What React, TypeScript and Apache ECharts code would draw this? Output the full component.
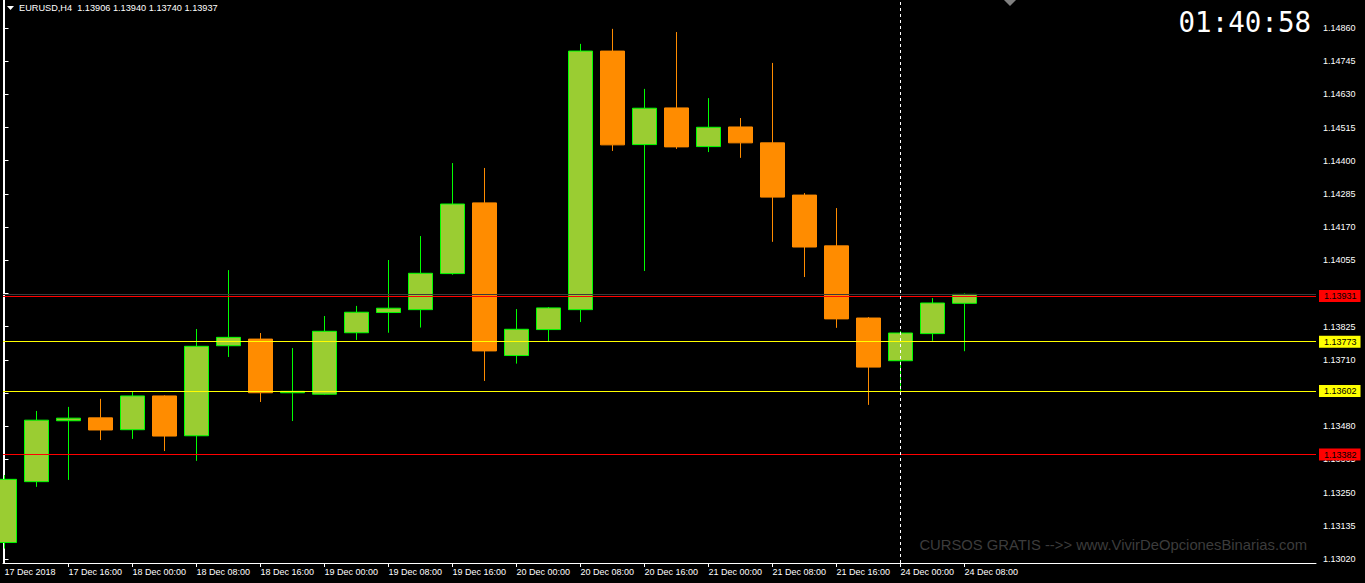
import React, { useEffect, useRef } from 'react';
import * as echarts from 'echarts';

// ---- Data (EURUSD H4) ----
const CANDLE_TIMES = [
  '17 Dec 08:00', '17 Dec 12:00', '17 Dec 16:00', '17 Dec 20:00',
  '18 Dec 00:00', '18 Dec 04:00', '18 Dec 08:00', '18 Dec 12:00', '18 Dec 16:00', '18 Dec 20:00',
  '19 Dec 00:00', '19 Dec 04:00', '19 Dec 08:00', '19 Dec 12:00', '19 Dec 16:00', '19 Dec 20:00',
  '20 Dec 00:00', '20 Dec 04:00', '20 Dec 08:00', '20 Dec 12:00', '20 Dec 16:00', '20 Dec 20:00',
  '21 Dec 00:00', '21 Dec 04:00', '21 Dec 08:00', '21 Dec 12:00', '21 Dec 16:00', '21 Dec 20:00',
  '24 Dec 00:00', '24 Dec 04:00', '24 Dec 08:00',
];
const OPEN = [
  1.13077, 1.13288, 1.13499, 1.13509, 1.13468, 1.13585, 1.13447, 1.13759, 1.13782, 1.13596,
  1.13591, 1.13804, 1.13874, 1.13884, 1.14009, 1.14254, 1.13725, 1.13815, 1.13884, 1.14780,
  1.14456, 1.14583, 1.14449, 1.14517, 1.14462, 1.14281, 1.14105, 1.13855, 1.13707, 1.13801, 1.13906,
];
const CLOSE = [
  1.13296, 1.13501, 1.13508, 1.13467, 1.13585, 1.13446, 1.13757, 1.13788, 1.13596, 1.13601,
  1.13809, 1.13875, 1.13889, 1.14010, 1.14250, 1.13741, 1.13816, 1.13890, 1.14780, 1.14455,
  1.14582, 1.14448, 1.14516, 1.14462, 1.14274, 1.14101, 1.13852, 1.13685, 1.13803, 1.13907, 1.13937,
];
const HIGH = [
  1.13311, 1.13533, 1.13547, 1.13575, 1.13600, 1.13587, 1.13817, 1.14021, 1.13803, 1.13751,
  1.13862, 1.13897, 1.14056, 1.14139, 1.14392, 1.14375, 1.13886, 1.13893, 1.14805, 1.14857,
  1.14649, 1.14846, 1.14617, 1.14548, 1.14739, 1.14288, 1.14236, 1.13858, 1.13810, 1.13924, 1.13940,
];
const LOW = [
  1.13056, 1.13270, 1.13294, 1.13432, 1.13436, 1.13394, 1.13360, 1.13720, 1.13564, 1.13498,
  1.13589, 1.13779, 1.13804, 1.13822, 1.14005, 1.13637, 1.13697, 1.13774, 1.13841, 1.14434,
  1.14018, 1.14441, 1.14430, 1.14410, 1.14119, 1.13997, 1.13821, 1.13554, 1.13595, 1.13776, 1.13740,
];

const X_TICK_INDEX = [0, 2, 4, 6, 8, 10, 12, 14, 16, 18, 20, 22, 24, 26, 28, 30];
const X_TICK_LABELS = [
  '17 Dec 2018', '17 Dec 16:00', '18 Dec 00:00', '18 Dec 08:00', '18 Dec 16:00', '19 Dec 00:00',
  '19 Dec 08:00', '19 Dec 16:00', '20 Dec 00:00', '20 Dec 08:00', '20 Dec 16:00', '21 Dec 00:00',
  '21 Dec 08:00', '21 Dec 16:00', '24 Dec 00:00', '24 Dec 08:00',
];
const Y_TICKS = [
  1.13020, 1.13135, 1.13250, 1.13365, 1.13480, 1.13595, 1.13710, 1.13825, 1.13940,
  1.14055, 1.14170, 1.14285, 1.14400, 1.14515, 1.14630, 1.14745, 1.14860,
];
const RED_LEVELS = [1.13931, 1.13382];
const YELLOW_LEVELS = [1.13773, 1.13602];
const BID = 1.13937;
const VLINE_INDEX = 28;

const HEADER = 'EURUSD,H4  1.13906 1.13940 1.13740 1.13937';
const CLOCK = '01:40:58';
const WATERMARK = 'CURSOS GRATIS -->> www.VivirDeOpcionesBinarias.com';

const FONT = '"Liberation Sans", Arial, sans-serif';

export default function App() {
  const ref = useRef<HTMLDivElement>(null);

  useEffect(() => {
    if (!ref.current) return;
    const chart = echarts.init(ref.current, null, { renderer: 'svg' });

    const candles = OPEN.map((o, i) => [i, o, CLOSE[i], LOW[i], HIGH[i]]);
    const yMin = 1.130061;
    const yMax = 1.14957;
    const xMin = -0.0469;
    const xMax = 40.984;

    const levelLabel = (v: number, bg: string) => ({
      show: true,
      position: 'end',
      distance: 3,
      formatter: v.toFixed(5),
      backgroundColor: bg,
      color: '#000',
      fontSize: 9,
      fontFamily: FONT,
      padding: [1, 4, 1, 5],
      lineHeight: 10,
    });

    chart.setOption({
      animation: false,
      backgroundColor: '#000',
      grid: { left: 3, right: 49, top: 0, bottom: 20, containLabel: false },
      xAxis: {
        type: 'value',
        min: xMin,
        max: xMax,
        position: 'bottom',
        axisLine: { show: true, lineStyle: { color: '#fff', width: 1 } },
        axisTick: {
          show: true,
          length: 4,
          customValues: X_TICK_INDEX.slice(1),
          lineStyle: { color: '#fff' },
        },
        axisLabel: {
          show: true,
          customValues: X_TICK_INDEX,
          formatter: (v: number) => {
            const k = X_TICK_INDEX.indexOf(Math.round(v));
            return k >= 0 ? X_TICK_LABELS[k] : '';
          },
          align: 'left',
          margin: 4,
          color: '#fff',
          fontSize: 9,
          fontFamily: FONT,
        },
        splitLine: { show: false },
      },
      yAxis: [
        {
          type: 'value',
          position: 'right',
          min: yMin,
          max: yMax,
          axisLine: { show: true, lineStyle: { color: '#fff', width: 1 } },
          axisTick: {
            show: true,
            length: 4,
            customValues: Y_TICKS,
            lineStyle: { color: '#fff' },
          },
          axisLabel: {
            show: true,
            customValues: Y_TICKS,
            formatter: (v: number) => v.toFixed(5),
            margin: 7,
            color: '#fff',
            fontSize: 9,
            fontFamily: FONT,
          },
          splitLine: { show: false },
        },
        {
          type: 'value',
          position: 'left',
          min: yMin,
          max: yMax,
          axisLine: { show: true, lineStyle: { color: '#fff', width: 1 } },
          axisTick: { show: false },
          axisLabel: { show: false },
          splitLine: { show: false },
        },
      ],
      series: [
        {
          type: 'candlestick',
          name: 'EURUSD,H4',
          data: candles,
          barWidth: 24,
          clip: true,
          silent: true,
          itemStyle: {
            color: '#9ACD32',
            borderColor: '#00FF00',
            color0: '#FF8C00',
            borderColor0: '#FF8C00',
            borderWidth: 1,
          },
        },
        {
          type: 'line',
          name: 'levels',
          data: [],
          silent: true,
          markLine: {
            silent: true,
            precision: 5,
            symbol: ['none', 'none'],
            animation: false,
            data: [
              {
                yAxis: BID,
                lineStyle: { color: '#3a3a3a', type: 'solid', width: 1 },
                label: { show: false },
              },
              ...RED_LEVELS.map((v) => ({
                yAxis: v,
                lineStyle: { color: '#ff0000', type: 'solid', width: 1 },
                label: levelLabel(v, '#ff0000'),
              })),
              ...YELLOW_LEVELS.map((v) => ({
                yAxis: v,
                lineStyle: { color: '#ffff00', type: 'solid', width: 1 },
                label: levelLabel(v, '#ffff00'),
              })),
              {
                xAxis: VLINE_INDEX,
                lineStyle: { color: '#ffffff', type: [3, 3], width: 1 },
                label: { show: false },
              },
            ],
          },
        },
      ],
      graphic: [
        {
          type: 'polygon',
          shape: { points: [[7, 6], [14, 6], [10.5, 10]] },
          style: { fill: '#fff' },
          silent: true,
        },
        {
          type: 'text',
          x: 19,
          y: 8,
          style: {
            text: HEADER,
            fill: '#fff',
            font: `9.2px ${FONT}`,
            textVerticalAlign: 'middle',
          },
          silent: true,
        },
        {
          type: 'text',
          x: 1311,
          y: 22,
          style: {
            text: CLOCK,
            fill: '#fff',
            font: '27.5px "DejaVu Sans Mono", monospace',
            textAlign: 'right',
            textVerticalAlign: 'middle',
          },
          silent: true,
        },
        {
          type: 'text',
          x: 1307,
          y: 545,
          style: {
            text: WATERMARK,
            fill: '#3c3c3c',
            font: `14.8px ${FONT}`,
            textAlign: 'right',
            textVerticalAlign: 'middle',
          },
          silent: true,
        },
        {
          type: 'polygon',
          shape: { points: [[1004, 0], [1016, 0], [1010, 6]] },
          style: { fill: '#808080' },
          silent: true,
        },
      ],
    });

    return () => chart.dispose();
  }, []);

  return (
    <div
      ref={ref}
      style={{ position: 'fixed', left: 0, top: 0, width: 1365, height: 583, background: '#000' }}
    />
  );
}
